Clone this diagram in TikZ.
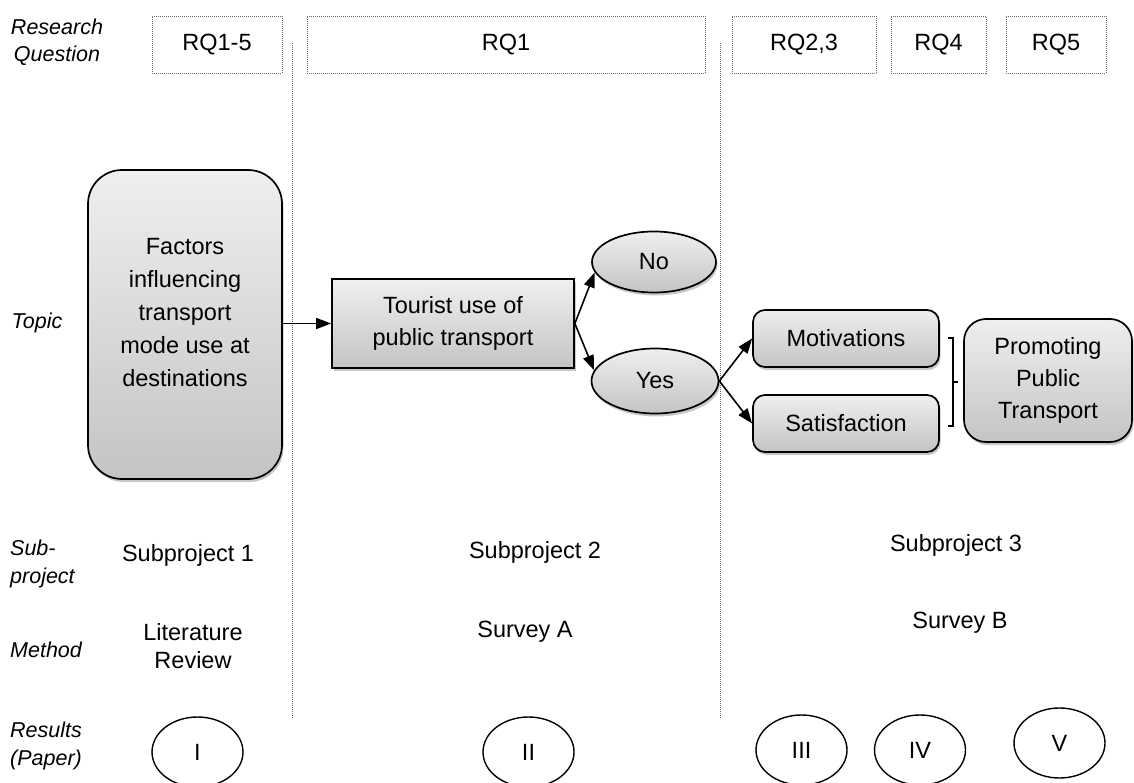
\documentclass[tikz,border=0pt]{standalone}
\usepackage{fontspec}
\setmainfont{Liberation Sans}
\usetikzlibrary{shapes.geometric,arrows.meta,shadows}
\definecolor{boxtop}{HTML}{EFEFEF}
\definecolor{boxbot}{HTML}{C4C4C4}
\definecolor{dotc}{HTML}{6A6A6A}
\begin{document}
\begin{tikzpicture}[x=1pt,y=-1pt,
  main/.style={font=\fontsize{23.5}{32}\selectfont, align=center, inner sep=0pt},
  lab/.style={font=\fontsize{21.5}{27.5}\selectfont\itshape, inner sep=0pt},
  rqbox/.style={main, draw=dotc, dash pattern=on 1pt off 1pt, line width=0.9pt, minimum height=57pt},
  gshadow/.style={drop shadow={shadow xshift=1.5pt, shadow yshift=-3pt, opacity=0.22, fill=black}},
  gbox/.style={main, draw=black, line width=1.7pt, top color=boxtop, bottom color=boxbot, gshadow},
  oval/.style={gbox, ellipse},
  paper/.style={main, ellipse, draw=black, line width=1.4pt, minimum width=91pt, minimum height=70pt},
  arr/.style={-{Triangle[length=15pt,width=11pt]}, line width=1.6pt},
  divider/.style={draw=dotc, dash pattern=on 1pt off 1pt, line width=0.9pt},
  brack/.style={line width=1.3pt}]

\useasboundingbox (0,0) rectangle (1134,783);

% row labels
\node[lab, align=center] (lrq) at (57,42) {Research\\Question};
\node[lab] (ltopic) at (37,323) {Topic};
\node[lab, align=left, anchor=west] (lsub) at (10,564) {Sub-\\project};
\node[lab, anchor=west] (lmethod) at (10,650) {Method};
\node[lab, align=left, anchor=west] (lres) at (10,746) {Results\\(Paper)};

% research question boxes
\node[rqbox, minimum width=130pt] (rq15) at (217,44.5) {RQ1-5};
\node[rqbox, minimum width=398pt] (rq1) at (506,44.5) {RQ1};
\node[rqbox, minimum width=144pt] (rq23) at (804,44.5) {RQ2,3};
\node[rqbox, minimum width=95pt] (rq4) at (938.5,44.5) {RQ4};
\node[rqbox, minimum width=100pt] (rq5) at (1056,44.5) {RQ5};

% dividers
\coordinate (v1top) at (292,43);
\coordinate (v1bot) at (292,718);
\coordinate (v2top) at (720,43);
\coordinate (v2bot) at (720,718);
\draw[divider] (v1top) -- (v1bot);
\draw[divider] (v2top) -- (v2bot);

% topic nodes
\node[gbox, rounded corners=34pt, minimum width=194pt, minimum height=309pt] (factors) at (185,324.5) {};
\node[main, font=\fontsize{23.5}{33}\selectfont] (factorstxt) at (185,313) {Factors\\influencing\\transport\\mode use at\\destinations};
\node[gbox, minimum width=242pt, minimum height=89pt] (tourist) at (453,323.5) {Tourist use of\\public transport};
\node[oval, minimum width=124pt, minimum height=61pt] (no) at (654,262) {No};
\node[oval, minimum width=127pt, minimum height=65pt] (yes) at (655,381) {Yes};
\node[gbox, rounded corners=12pt, minimum width=186pt, minimum height=57pt] (motiv) at (846,338.5) {Motivations};
\node[gbox, rounded corners=12pt, minimum width=186pt, minimum height=57pt] (satis) at (846,423.5) {Satisfaction};
\node[gbox, rounded corners=22pt, minimum width=168pt, minimum height=123pt] (promo) at (1048,380.5) {Promoting\\Public\\Transport};

% connectors
\draw[arr] (factors.east |- tourist.west) -- (tourist.west);
\draw[arr] (tourist.east) -- (no.190);
\draw[arr] (tourist.east) -- (yes.170);
\draw[arr] (yes.east) -- (motiv.west);
\draw[arr] (yes.east) -- (satis.west);

% bracket
\coordinate (b1) at (948,338);
\coordinate (b2) at (953,338);
\coordinate (b3) at (953,426);
\coordinate (b4) at (948,426);
\coordinate (bm) at (953,382);
\coordinate (bt) at (958,382);
\draw[brack] (b1) -- (b2) -- (b3) -- (b4);
\draw[brack] (bm) -- (bt);

% subprojects and methods
\node[main] (sub1) at (188,555) {Subproject 1};
\node[main] (sub2) at (535,552) {Subproject 2};
\node[main] (sub3) at (956,545) {Subproject 3};
\node[main, font=\fontsize{23.5}{28}\selectfont] (lit) at (193,646) {Literature\\Review};
\node[main] (survA) at (525,632) {Survey A};
\node[main] (survB) at (960,623) {Survey B};

% papers
\node[paper] (p1) at (197.5,752) {I};
\node[paper] (p2) at (528.5,752) {II};
\node[paper] (p3) at (801.5,750) {III};
\node[paper] (p4) at (920,750) {IV};
\node[paper] (p5) at (1059.5,743) {V};
\end{tikzpicture}
\end{document}
